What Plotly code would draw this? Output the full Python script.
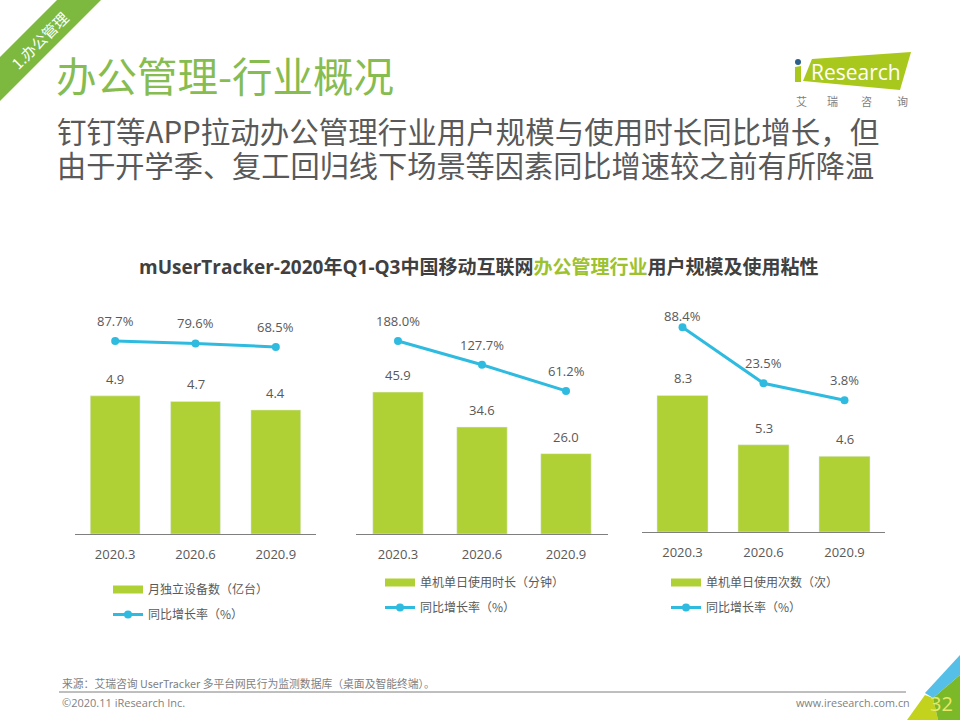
import plotly.graph_objects as go

# data
months = ["2020.3", "2020.6", "2020.9"]
devices = [4.9, 4.7, 4.4]
devices_yoy = [87.7, 79.6, 68.5]
minutes = [45.9, 34.6, 26.0]
minutes_yoy = [188.0, 127.7, 61.2]
times = [8.3, 5.3, 4.6]
times_yoy = [88.4, 23.5, 3.8]

# full-width punctuation written as escapes so it stays full-width
bar_names = ["月独立设备数\uff08亿台\uff09", "单机单日使用时长\uff08分钟\uff09", "单机单日使用次数\uff08次\uff09"]
line_name = "同比增长率\uff08%\uff09"

GREEN = "#B0D136"
BLUE = "#2FBBE0"
GREY = "#595959"
CJK = "Noto Sans CJK SC"
LATIN = "Open Sans, Noto Sans CJK SC"

W, H = 960, 720


def px(x):
    return x / W


def py(y):
    return 1 - y / H


def poly(points, color):
    path = "M " + " L ".join(f"{px(x):.4f},{py(y):.4f}" for x, y in points) + " Z"
    return dict(type="path", xref="paper", yref="paper", path=path,
                fillcolor=color, line=dict(width=0), layer="below")


def note(x, y, text, size, color=GREY, anchor="left", **kw):
    return dict(xref="paper", yref="paper", x=px(x), y=py(y), text=text, showarrow=False,
                xanchor=anchor, yanchor="middle", font=dict(size=size, color=color, family=kw.pop("family", CJK)), **kw)


# x0, x1, baseline, bar values, yoy values, y range, yoy range, bar width, label shifts, legend pos
panels = [
    dict(x0=75, x1=316, base=534, bars=devices, yoy=devices_yoy, yr=[0, 8.3], y2r=[-535, 220],
         width=0.62, shift=[20, 21, 20], name=bar_names[0], leg=(108, 575)),
    dict(x0=356, x1=608, base=534, bars=minutes, yoy=minutes_yoy, yr=[0, 75.7], y2r=[-302, 292],
         width=0.6, shift=[20, 20, 20], name=bar_names[1], leg=(380, 568)),
    dict(x0=642, x1=885, base=532, bars=times, yoy=times_yoy, yr=[0, 14.1], y2r=[-149, 120],
         width=0.63, shift=[11, 20, 20], name=bar_names[2], leg=(666, 568)),
]

fig = go.Figure()
annotations = []
layout = {}

for n, p in enumerate(panels):
    i = n * 2 + 1
    xname = "x" if n == 0 else f"x{n + 1}"
    yname = "y" if n == 0 else f"y{i}"
    y2name = f"y{i + 1}"
    legend = "legend" if n == 0 else f"legend{n + 1}"
    fig.add_trace(go.Bar(x=months, y=p["bars"], marker_color=GREEN, width=p["width"],
                         xaxis=xname, yaxis=yname, showlegend=False))
    # bar key on the slide is a long flat block, plotly's bar swatch is a small square
    fig.add_trace(go.Scatter(x=[None], y=[None], name=p["name"], mode="lines",
                             line=dict(color=GREEN, width=8),
                             xaxis=xname, yaxis=yname, legend=legend, legendgroup=f"b{n}"))
    fig.add_trace(go.Scatter(x=months, y=p["yoy"], name=line_name, mode="lines+markers",
                             line=dict(color=BLUE, width=3), marker=dict(color=BLUE, size=8),
                             xaxis=xname, yaxis=y2name, legend=legend, legendgroup=f"l{n}"))
    layout[f"xaxis{n + 1}"] = dict(domain=[px(p["x0"]), px(p["x1"])], anchor=yname, range=[-0.5, 2.5],
                                   type="category", showgrid=False, ticks="", showline=True,
                                   linecolor="#7F7F7F", linewidth=1, ticklabelstandoff=8,
                                   tickfont=dict(size=13, color=GREY, family=LATIN))
    ydom = [py(p["base"]), py(300)]
    hidden = dict(showticklabels=False, showgrid=False, zeroline=False, showline=False, ticks="")
    layout[f"yaxis{i}"] = dict(domain=ydom, anchor=xname, range=p["yr"], **hidden)
    layout[f"yaxis{i + 1}"] = dict(domain=ydom, anchor=xname, range=p["y2r"], overlaying=yname, **hidden)
    layout[legend] = dict(x=px(p["leg"][0]), y=py(p["leg"][1]), xanchor="left", yanchor="top",
                          bgcolor="rgba(0,0,0,0)", tracegroupgap=6,
                          font=dict(size=12, color=GREY, family=CJK), itemwidth=30)
    for k, m in enumerate(months):
        annotations.append(dict(x=k, y=p["bars"][k], xref=xname, yref=yname, text=f"{p['bars'][k]:.1f}",
                                showarrow=False, yshift=17, font=dict(size=13, color=GREY, family=LATIN)))
        annotations.append(dict(x=k, y=p["yoy"][k], xref=xname, yref=y2name, text=f"{p['yoy'][k]:.1f}%",
                                showarrow=False, yshift=p["shift"][k], font=dict(size=13, color=GREY, family=LATIN)))

# slide furniture
shapes = [
    poly([(0, 57), (57, 0), (101, 0), (0, 101)], "#7CB93E"),
    poly([(803, 81), (812, 59), (911, 52), (900, 90)], "#A9C81E"),
    poly([(795, 67), (801, 66), (801, 82), (795, 82)], "#A9C81E"),
    dict(type="circle", xref="paper", yref="paper", x0=px(795), x1=px(801), y0=py(59), y1=py(65),
         fillcolor="#2C5F8A", line=dict(width=0), layer="below"),
    poly([(907, 720), (925, 695), (933, 698), (938, 720)], "#C3D21C"),
    poly([(925, 693), (960, 655), (960, 675), (933, 698)], "#55BFE8"),
    poly([(933, 698), (960, 675), (960, 720), (938, 720)], "#7CB928"),
    dict(type="line", xref="paper", yref="paper", x0=px(59), x1=px(906), y0=py(692), y1=py(692),
         line=dict(color="#7F7F7F", width=1)),
]

annotations += [
    note(39, 40, "1.办公管理", 15, "#FFFFFF", anchor="center", textangle=-45),
    note(54, 75, "办公管理-行业概况", 40.5, "#86BC50"),
    note(55, 130, "钉钉等APP拉动办公管理行业用户规模与使用时长同比增长\uff0c但", 29.5),
    note(55, 164, "由于开学季\u3001复工回归线下场景等因素同比增速较之前有所降温", 29.2),
    note(479, 267, "<b>mUserTracker-2020年Q1-Q3中国移动互联网<span style='color:#9CC22E'>办公管理行业</span>用户规模及使用粘性</b>",
         19, "#404040", anchor="center", family=LATIN),
    note(60, 683, "来源\uff1a艾瑞咨询 UserTracker 多平台网民行为监测数据库\uff08桌面及智能终端\uff09\u3002", 10.8, "#7F7F7F"),
    note(60, 702, "©2020.11 iResearch Inc.", 11, "#7F7F7F", family=LATIN),
    note(912, 702, "www.iresearch.com.cn", 10.8, "#7F7F7F", anchor="right", family=LATIN),
    note(941, 703, "32", 20, "#E8E86A", anchor="center", family=LATIN),
    note(856, 72, "Research", 21, "#FFFFFF", anchor="center", family="Open Sans"),
]
for x, ch in zip([801, 832, 866, 902], "艾瑞咨询"):
    annotations.append(note(x, 101, ch, 11, "#808080", anchor="center"))

fig.update_layout(width=W, height=H, margin=dict(l=0, r=0, t=0, b=0), paper_bgcolor="white",
                  plot_bgcolor="white", barmode="overlay", shapes=shapes, annotations=annotations,
                  **layout)

# the page's default 8px body margin would push the slide off the window
fig.write_html("out.html", config={"displayModeBar": False}, post_script="document.body.style.margin='0';")
